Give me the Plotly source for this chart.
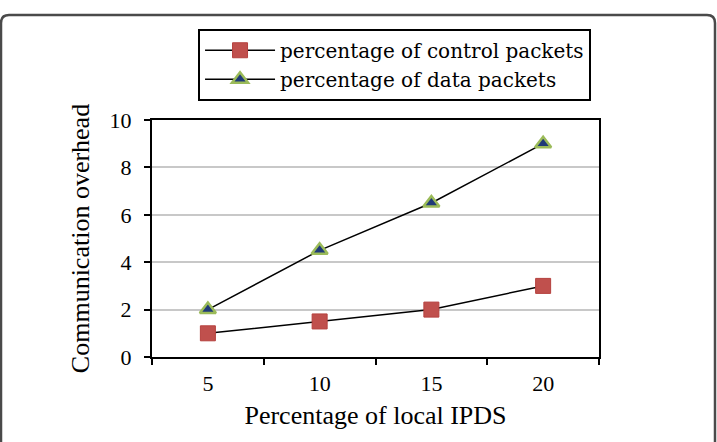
import plotly.graph_objects as go

categories = ["5", "10", "15", "20"]
control_packets = [1, 1.5, 2, 3]
data_packets = [2, 4.5, 6.5, 9]
y_ticks = [0, 2, 4, 6, 8, 10]

FONT = "Liberation Serif"

fig = go.Figure()
fig.add_trace(go.Scatter(
    x=categories, y=control_packets, mode="lines+markers",
    name="percentage of control packets",
    line=dict(color="black", width=1.5),
    marker=dict(symbol="square", size=15, color="#c0504d",
                line=dict(color="#b5413e", width=1)),
))
fig.add_trace(go.Scatter(
    x=categories, y=data_packets, mode="lines+markers",
    name="percentage of data packets",
    line=dict(color="black", width=1.5),
    marker=dict(symbol="triangle-up", size=14, color="#1f3a78",
                line=dict(color="#9bbb59", width=2.5)),
))

fig.update_layout(
    width=717, height=442,
    margin=dict(l=152, r=118, t=120, b=85),
    paper_bgcolor="white", plot_bgcolor="white",
    font=dict(family=FONT, size=22, color="black"),
    showlegend=True,
    legend=dict(
        x=0.103, y=1.385, xanchor="left", yanchor="top",
        bordercolor="black", borderwidth=2, bgcolor="white",
        font=dict(family="DejaVu Serif", size=20, color="black"),
        tracegroupgap=0, itemwidth=70,
    ),
    xaxis=dict(
        type="category", range=[-0.5, 3.5], tickson="boundaries",
        ticks="outside", ticklen=6, tickwidth=2, tickcolor="black",
        showline=True, linecolor="black", linewidth=2, mirror=True,
        showgrid=False, zeroline=False, ticklabelstandoff=6,
        title=dict(text="Percentage of local IPDS", standoff=10,
                   font=dict(family=FONT, size=26)),
        tickfont=dict(family=FONT, size=22),
    ),
    yaxis=dict(
        range=[0, 10], tickvals=y_ticks,
        ticks="outside", ticklen=6, tickwidth=2, tickcolor="black",
        showline=True, linecolor="black", linewidth=2, mirror=True,
        showgrid=True, gridcolor="#c8c8c8", gridwidth=1.5, zeroline=False,
        ticklabelstandoff=8,
        title=dict(text="Communication overhead", standoff=12,
                   font=dict(family=FONT, size=26)),
        tickfont=dict(family=FONT, size=22),
    ),
)

# outer rounded frame (top and sides)
fig.add_shape(
    type="path", xref="paper", yref="paper",
    xsizemode="pixel", ysizemode="pixel", xanchor=0, yanchor=0,
    path="M -151,-95 L -151,334 Q -151,342 -143,342 L 555,342 Q 563,342 563,334 L 563,-95",
    line=dict(color="#4a4a4a", width=2.5),
)

fig.write_html("out.html")
